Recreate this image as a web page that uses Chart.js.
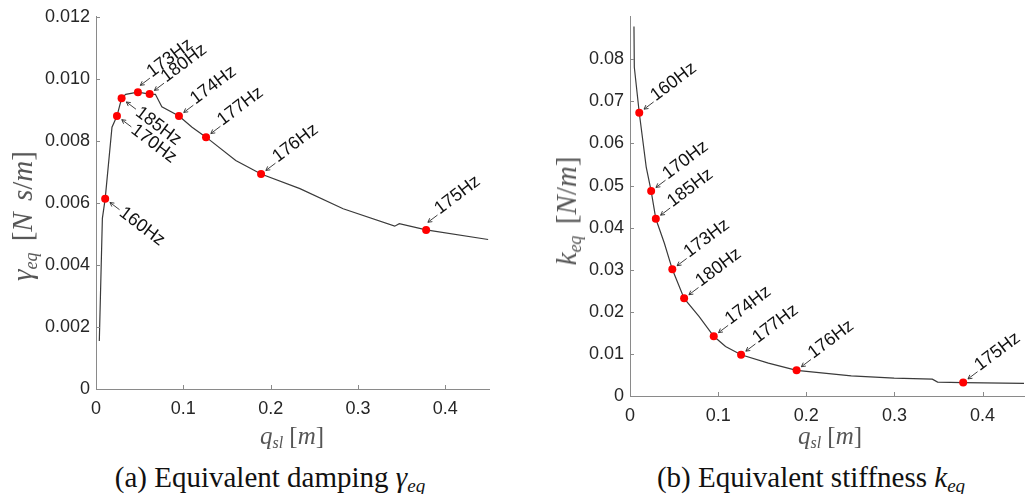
<!DOCTYPE html>
<html>
<head>
<meta charset="utf-8">
<script src="https://cdn.jsdelivr.net/npm/chart.js@4.4.0/dist/chart.umd.min.js"></script>
<style>
  body { margin: 0; background: #fff; }
  #wrap { position: relative; width: 1028px; height: 494px; overflow: hidden; }
  canvas { position: absolute; top: 0; }
  .tex { position: absolute; font-family: "Liberation Serif", "Times New Roman", serif; color: #555; font-size: 25px; white-space: nowrap; transform: translate(-50%, -50%); }
  .tex i { font-style: italic; }
  .tex sub { font-size: 16px; vertical-align: -4px; }
  .rot { transform: translate(-50%, -50%) rotate(-90deg); font-size: 29px; word-spacing: 4px; }
  .rot sub { font-size: 18px; vertical-align: -5px; }
  .cap { color: #111; font-size: 29px; }
  .cap sub { font-size: 19px; vertical-align: -5px; }
</style>
</head>
<body>
<div id="wrap">
  <canvas id="damping" width="520" height="440" style="left:0"></canvas>
  <canvas id="stiffness" width="508" height="440" style="left:520px"></canvas>

  <div class="tex rot" style="left:24px;top:216px"><i>γ</i><sub><i>eq</i></sub> [<i>N s</i>/<i>m</i>]</div>
  <div class="tex" style="left:292px;top:437px"><i>q</i><sub><i>sl</i></sub> [<i>m</i>]</div>
  <div class="tex cap" style="left:270px;top:479px">(a) Equivalent damping <i>γ</i><sub><i>eq</i></sub></div>

  <div class="tex rot" style="left:568px;top:211px"><i>k</i><sub><i>eq</i></sub> [<i>N</i>/<i>m</i>]</div>
  <div class="tex" style="left:830px;top:437px"><i>q</i><sub><i>sl</i></sub> [<i>m</i>]</div>
  <div class="tex cap" style="left:811px;top:479px">(b) Equivalent stiffness <i>k</i><sub><i>eq</i></sub></div>
</div>
<script>
// marked operating points (same q_sl in both panels)
const freqLabels = ['160Hz', '170Hz', '185Hz', '173Hz', '180Hz', '174Hz', '177Hz', '176Hz', '175Hz'];
const qMarks = [0.0105, 0.024, 0.0293, 0.048, 0.0614, 0.095, 0.126, 0.189, 0.378];
const gammaMarks = [0.00613, 0.0088, 0.00937, 0.00957, 0.00951, 0.0088, 0.00812, 0.00693, 0.00513];
const stiffMarks = [0.0673, 0.0487, 0.0421, 0.0301, 0.0232, 0.0142, 0.0098, 0.0061, 0.0032];

// continuous curves
const qCurveA = [0.0038, 0.0073, 0.0105, 0.0183, 0.024, 0.0293, 0.034, 0.048, 0.0614, 0.068, 0.0754, 0.095, 0.11, 0.126, 0.16, 0.189, 0.2335, 0.283, 0.342, 0.3473, 0.378, 0.449];
const gammaCurve = [0.00155, 0.0055, 0.00613, 0.00844, 0.0088, 0.00937, 0.0095, 0.00957, 0.00951, 0.0095, 0.0091, 0.0088, 0.00844, 0.00812, 0.00737, 0.00693, 0.00646, 0.00581, 0.00525, 0.00533, 0.00513, 0.00482];
const qCurveB = [0.0045, 0.0049, 0.0105, 0.0184, 0.024, 0.0293, 0.039, 0.048, 0.0614, 0.0785, 0.095, 0.1084, 0.126, 0.157, 0.189, 0.251, 0.2997, 0.343, 0.349, 0.378, 0.447];
const stiffCurve = [0.0878, 0.0781, 0.0673, 0.0544, 0.0487, 0.0421, 0.0363, 0.0301, 0.0232, 0.01886, 0.0142, 0.01175, 0.0098, 0.0078, 0.0061, 0.0048, 0.00426, 0.0040, 0.0033, 0.0032, 0.0030];

const xTicks = [0, 0.1, 0.2, 0.3, 0.4];
const dampingTicks = [0, 0.002, 0.004, 0.006, 0.008, 0.010, 0.012];
const stiffTicks = [0, 0.01, 0.02, 0.03, 0.04, 0.05, 0.06, 0.07, 0.08];

Chart.defaults.font.family = '"Liberation Sans", Arial, sans-serif';
Chart.defaults.font.size = 18;
Chart.defaults.color = '#262626';

const pairs = (xs, ys) => xs.map((v, i) => ({ x: v, y: ys[i] }));

// MATLAB style inward tick marks
const innerTicks = {
  id: 'innerTicks',
  afterDraw(chart) {
    const { ctx, chartArea, scales: { x, y } } = chart;
    ctx.save();
    ctx.strokeStyle = '#8a8a8a';
    ctx.lineWidth = 1;
    ctx.beginPath();
    x.ticks.forEach(t => {
      const px = Math.round(x.getPixelForValue(t.value)) + 0.5;
      ctx.moveTo(px, chartArea.bottom);
      ctx.lineTo(px, chartArea.bottom - 4);
    });
    y.ticks.forEach(t => {
      const py = Math.round(y.getPixelForValue(t.value)) + 0.5;
      ctx.moveTo(chartArea.left, py);
      ctx.lineTo(chartArea.left + 4, py);
    });
    ctx.stroke();
    ctx.restore();
  }
};

// arrow + rotated frequency label at each marked point
const hzLabels = {
  id: 'hzLabels',
  afterDatasetsDraw(chart, args, opts) {
    const { ctx, scales: { x, y } } = chart;
    ctx.save();
    ctx.strokeStyle = '#2b2b2b';
    ctx.fillStyle = '#111';
    ctx.lineWidth = 0.9;
    ctx.font = '18px "Liberation Sans", Arial, sans-serif';
    freqLabels.forEach((lab, i) => {
      const down = opts.down.includes(lab);
      const a = (down ? 37 : -37) * Math.PI / 180;
      const c = Math.cos(a), s = Math.sin(a);
      // a few labels sit a little above the line through the point
      const lift = opts.lift[lab] || 0;
      const px = x.getPixelForValue(qMarks[i]) + lift * s;
      const py = y.getPixelForValue(opts.values[i]) - lift * c;
      const tipX = px + 6 * c, tipY = py + 6 * s;
      ctx.beginPath();
      ctx.moveTo(tipX, tipY);
      ctx.lineTo(px + 18 * c, py + 18 * s);
      [0.5, -0.5].forEach(h => {
        ctx.moveTo(tipX, tipY);
        ctx.lineTo(tipX + 4.5 * Math.cos(a + h), tipY + 4.5 * Math.sin(a + h));
      });
      ctx.stroke();
      ctx.save();
      ctx.translate(px + 20 * c, py + 20 * s);
      ctx.rotate(a);
      ctx.textBaseline = down ? 'middle' : 'alphabetic';
      ctx.fillText(lab, 0, down ? 0 : 1);
      ctx.restore();
    });
    ctx.restore();
  }
};

function makeChart(id, curveX, curveY, markY, opt) {
  return new Chart(document.getElementById(id), {
    type: 'scatter',
    data: {
      datasets: [{
        data: pairs(qMarks, markY),
        pointRadius: 4,
        pointBackgroundColor: '#ff0000',
        pointBorderWidth: 0,
        showLine: false
      }, {
        data: pairs(curveX, curveY),
        showLine: true,
        pointRadius: 0,
        borderColor: '#3a3a3a',
        borderWidth: 1.2,
        tension: 0
      }]
    },
    options: {
      responsive: false,
      devicePixelRatio: 1,
      animation: false,
      layout: { padding: { left: 0, top: 16, right: opt.padRight, bottom: 0 } },
      plugins: {
        legend: { display: false },
        tooltip: { enabled: false },
        hzLabels: { values: markY, down: opt.down, lift: opt.lift }
      },
      scales: {
        x: {
          type: 'linear',
          min: 0,
          max: opt.xMax,
          afterFit: s => { s.height = opt.xHeight; },
          afterBuildTicks: s => { s.ticks = xTicks.map(v => ({ value: v })); },
          grid: { display: false, drawTicks: false },
          border: { display: true, color: '#8a8a8a', width: 1 },
          ticks: { padding: 9, maxRotation: 0, callback: v => v === 0 ? '0' : v.toFixed(1) }
        },
        y: {
          min: 0,
          max: opt.yMax,
          afterFit: s => { s.width = opt.yWidth; },
          afterBuildTicks: s => { s.ticks = opt.yTicks.map(v => ({ value: v })); },
          grid: { display: false, drawTicks: false },
          border: { display: true, color: '#8a8a8a', width: 1 },
          ticks: { padding: 6, callback: v => v === 0 ? '0' : v.toFixed(opt.digits) }
        }
      }
    },
    plugins: [innerTicks, hzLabels]
  });
}

makeChart('damping', qCurveA, gammaCurve, gammaMarks, {
  xMax: 0.45, yMax: 0.012, yTicks: dampingTicks, digits: 3,
  yWidth: 96, xHeight: 51, padRight: 31,
  down: ['160Hz', '170Hz', '185Hz'],
  lift: { '173Hz': 4, '175Hz': 5 }
});
makeChart('stiffness', qCurveB, stiffCurve, stiffMarks, {
  xMax: 0.447, yMax: 0.0901, yTicks: stiffTicks, digits: 2,
  yWidth: 110, xHeight: 44, padRight: 0,
  down: [],
  lift: {}
});
</script>
</body>
</html>
